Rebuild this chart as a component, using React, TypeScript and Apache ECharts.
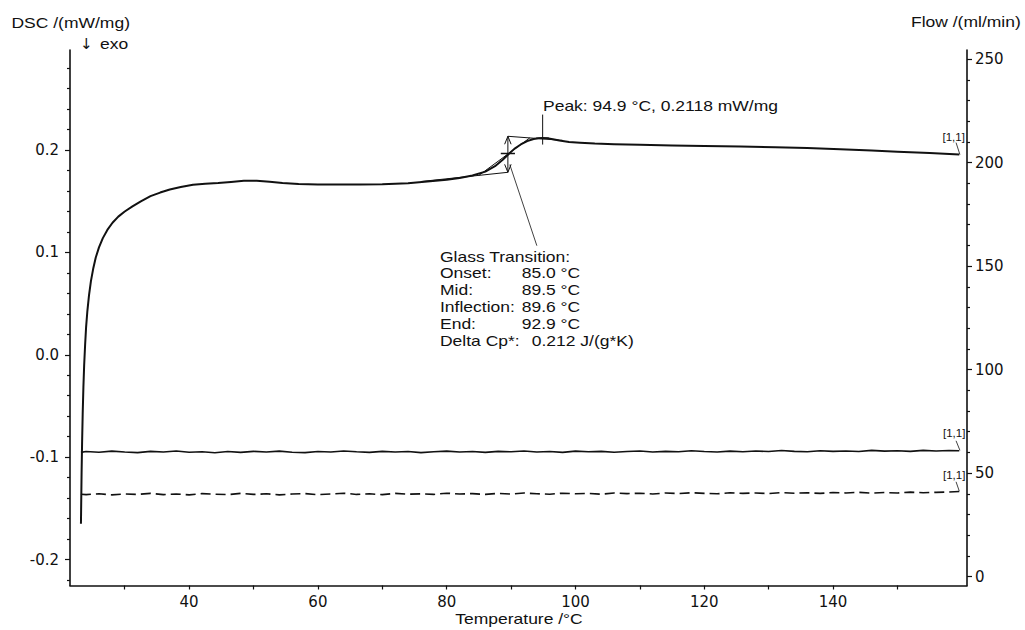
import React, { useEffect, useRef } from 'react';
import * as echarts from 'echarts';

// ---- DSC curve (left axis, mW/mg) ----
const dscT = [23.2, 23.25, 23.3, 23.38, 23.47, 23.58, 23.7, 23.85, 24.0, 24.2, 24.45, 24.75, 25.1, 25.5, 26.0, 26.6, 27.3, 28.1, 29.0, 30.0, 31.2, 32.5, 34.0, 35.5, 37.0, 38.7, 40.6, 42.5, 44.5, 46.5, 48.5, 50.5, 52.5, 54.5, 57, 60, 63, 66.6, 70, 74, 77, 80, 82, 84, 86, 87.5, 88.7, 89.5, 90.5, 91.5, 92.5, 93.5, 94.3, 94.9, 95.6, 96.5, 97.5, 99, 100.7, 103, 106, 110, 115, 120, 125.6, 131, 136, 141.1, 146, 150, 155, 159.6];
const dscV = [-0.165, -0.14, -0.115, -0.085, -0.058, -0.032, -0.01, 0.01, 0.027, 0.043, 0.058, 0.072, 0.084, 0.095, 0.105, 0.114, 0.122, 0.129, 0.135, 0.14, 0.145, 0.15, 0.155, 0.1585, 0.1615, 0.164, 0.1662, 0.1672, 0.1678, 0.1688, 0.17, 0.17, 0.169, 0.1678, 0.1668, 0.1663, 0.1663, 0.1665, 0.1667, 0.1677, 0.1693, 0.171, 0.1727, 0.1752, 0.179, 0.1843, 0.1905, 0.1955, 0.2012, 0.2055, 0.2088, 0.2108, 0.2116, 0.2118, 0.2115, 0.2105, 0.2093, 0.208, 0.2072, 0.2064, 0.2058, 0.2052, 0.2046, 0.2041, 0.2035, 0.2028, 0.202, 0.2008, 0.1995, 0.1985, 0.1972, 0.1956];

// ---- Flow curves (right axis, ml/min) ----
const flowT = [23.2, 24, 26, 28, 30, 32, 34, 36, 38, 40, 42, 44, 46, 48, 50, 52, 54, 56, 58, 60, 62, 64, 66, 68, 70, 72, 74, 76, 78, 80, 82, 84, 86, 88, 90, 92, 94, 96, 98, 100, 102, 104, 106, 108, 110, 112, 114, 116, 118, 120, 122, 124, 126, 128, 130, 132, 134, 136, 138, 140, 142, 144, 146, 148, 150, 152, 154, 156, 158, 159.6];
const flowSolid = [60.0, 60.4, 60.1, 60.6, 60.2, 59.9, 60.5, 60.2, 60.7, 60.1, 60.3, 59.8, 60.4, 60.0, 60.5, 60.2, 60.6, 60.1, 59.9, 60.4, 60.2, 60.7, 60.3, 60.0, 60.5, 60.2, 60.4, 59.9, 60.3, 60.6, 60.2, 60.4, 60.0, 60.5, 60.3, 60.7, 60.2, 60.4, 60.0, 60.6, 60.3, 60.5, 60.1, 60.4, 60.7, 60.2, 60.5, 60.3, 60.8, 60.4, 60.2, 60.6, 60.3, 60.7, 60.4, 60.9, 60.5, 60.3, 60.8, 60.5, 60.7, 60.4, 61.0, 60.6, 60.8, 60.5, 61.0, 60.7, 60.9, 60.8];
const flowDashed = [39.8, 39.6, 40.0, 39.5, 39.9, 39.7, 40.2, 39.6, 39.9, 39.5, 40.1, 39.8, 39.6, 40.2, 39.7, 40.0, 39.5, 39.9, 40.1, 39.6, 39.9, 40.3, 39.7, 40.0, 39.6, 40.2, 39.8, 40.0, 39.7, 40.3, 39.9, 40.1, 39.7, 40.2, 39.9, 40.4, 40.0, 39.8, 40.3, 40.0, 40.2, 39.8, 40.4, 40.1, 40.3, 39.9, 40.4, 40.1, 40.5, 40.2, 40.0, 40.5, 40.2, 40.4, 40.1, 40.6, 40.3, 40.5, 40.2, 40.6, 40.4, 40.7, 40.3, 40.6, 40.4, 40.8, 40.5, 40.7, 40.9, 41.1];

// ---- Glass transition evaluation marks (DSC axis units) ----
const onsetBaseline = [[76, 0.1693], [89.5, 0.1783]];
const endBaseline = [[89.5, 0.2135], [98, 0.2095]];
const inflectionTangent = [[85.0, 0.1753], [92.9, 0.2119]];
const stepArrow = [[89.5, 0.1783], [89.5, 0.2135]];
const arrowHeadTop = [[89.0, 0.2057], [89.5, 0.2135], [90.0, 0.2057]];
const arrowHeadBottom = [[89.0, 0.1861], [89.5, 0.1783], [90.0, 0.1861]];
const midTick = [[88.4, 0.1966], [90.6, 0.1966]];
const peakTick = [[94.9, 0.2054], [94.9, 0.2347]];
const peakCross = [[93.9, 0.2118], [95.9, 0.2118]];
const tgLeader = [[89.8, 0.1858], [94.0, 0.1066]];
const dscEndLeader = [[159.1, 0.2073], [159.7, 0.1956]];
const solidEndLeader = [[159.1, 65.6], [159.7, 61.0]];
const dashEndLeader = [[159.1, 45.8], [159.6, 41.3]];

// ---- Axis ticks ----
const xTickValues = [30, 40, 50, 60, 70, 80, 90, 100, 110, 120, 130, 140, 150];
const xLabelValues = [40, 60, 80, 100, 120, 140];
const dscMajorTicks = [-0.2, -0.1, 0, 0.1, 0.2];
const dscMinorTicks = [-0.22, -0.18, -0.16, -0.14, -0.12, -0.08, -0.06, -0.04, -0.02, 0.02, 0.04, 0.06, 0.08, 0.12, 0.14, 0.16, 0.18, 0.22, 0.24, 0.26, 0.28];
const flowMajorTicks = [0, 50, 100, 150, 200, 250];
const flowMinorTicks = [10, 20, 30, 40, 60, 70, 80, 90, 110, 120, 130, 140, 160, 170, 180, 190, 210, 220, 230, 240];

const glassLabels = ['Onset:', 'Mid:', 'Inflection:', 'End:', 'Delta Cp*:'];
const glassValues = ['85.0 °C', '89.5 °C', '89.6 °C', '92.9 °C', '0.212 J/(g*K)'];

const zip = (xs: number[], ys: number[]) => xs.map((x, i) => [x, ys[i]]);

const FONT = '"Liberation Sans", Arial, sans-serif';
const TICK_FONT = '"DejaVu Sans", sans-serif';

const txt = (text: string, x: number, y: number, size = 14, align = 'left', sx = 1.25, family = FONT) => ({
  type: 'text',
  x,
  y,
  scaleX: sx,
  z: 10,
  style: { text, fill: '#111', fontFamily: family, fontSize: size, verticalAlign: 'middle', align },
});

const annot = (data: number[][], yAxisIndex = 0, width = 1) => ({
  type: 'line',
  xAxisIndex: 0,
  yAxisIndex,
  data,
  showSymbol: false,
  symbol: 'none',
  silent: true,
  lineStyle: { color: '#111', width },
  z: 3,
});

const axisBase = {
  type: 'value',
  splitLine: { show: false },
};

export default function App() {
  const ref = useRef<HTMLDivElement>(null);
  useEffect(() => {
    document.body.style.margin = '0';
    const chart = echarts.init(ref.current as HTMLDivElement, null, { renderer: 'svg' });
    const rowY = [273.3, 290, 307, 324, 341];
    const valX = [521.7, 521.7, 521.7, 521.7, 531.7];
    const option: any = {
      animation: false,
      backgroundColor: '#fff',
      grid: { left: 70, right: 58, top: 50, bottom: 44.5 },
      xAxis: {
        ...axisBase,
        min: 21.5,
        max: 160.8,
        axisLine: { show: true, onZero: false, lineStyle: { color: '#111', width: 1.6 } },
        axisTick: { show: true, customValues: xTickValues, length: 4, lineStyle: { color: '#111', width: 1.2 } },
        axisLabel: { customValues: xLabelValues, color: '#111', fontFamily: TICK_FONT, fontSize: 15, margin: 9 },
      },
      yAxis: [
        {
          ...axisBase,
          position: 'left',
          min: -0.2254,
          max: 0.2978,
          axisLine: { show: true, onZero: false, lineStyle: { color: '#111', width: 1.6 } },
          axisTick: { show: true, customValues: dscMajorTicks, length: 5, lineStyle: { color: '#111', width: 1.2 } },
          axisLabel: {
            customValues: dscMajorTicks,
            color: '#111',
            fontFamily: TICK_FONT,
            fontSize: 15,
            margin: 11,
            formatter: (v: number) => v.toFixed(1),
          },
        },
        {
          ...axisBase,
          position: 'left',
          offset: 0,
          min: -0.2254,
          max: 0.2978,
          axisLine: { show: false, onZero: false },
          axisTick: { show: true, customValues: dscMinorTicks, length: 3, lineStyle: { color: '#111', width: 1.2 } },
          axisLabel: { show: false },
        },
        {
          ...axisBase,
          position: 'right',
          min: -4.3,
          max: 254.4,
          axisLine: { show: true, onZero: false, lineStyle: { color: '#111', width: 1.6 } },
          axisTick: { show: true, customValues: flowMajorTicks, length: 5, lineStyle: { color: '#111', width: 1.2 } },
          axisLabel: { customValues: flowMajorTicks, color: '#111', fontFamily: TICK_FONT, fontSize: 15, margin: 8 },
        },
        {
          ...axisBase,
          position: 'right',
          offset: 0,
          min: -4.3,
          max: 254.4,
          axisLine: { show: false, onZero: false },
          axisTick: { show: true, customValues: flowMinorTicks, length: 3, lineStyle: { color: '#111', width: 1.2 } },
          axisLabel: { show: false },
        },
      ],
      series: [
        {
          name: 'DSC',
          type: 'line',
          xAxisIndex: 0,
          yAxisIndex: 0,
          data: zip(dscT, dscV),
          showSymbol: false,
          symbol: 'none',
          smooth: false,
          lineStyle: { color: '#111', width: 2, join: 'round' },
          z: 4,
        },
        {
          name: 'Flow 1',
          type: 'line',
          xAxisIndex: 0,
          yAxisIndex: 2,
          data: zip(flowT, flowSolid),
          showSymbol: false,
          symbol: 'none',
          lineStyle: { color: '#111', width: 1.6 },
        },
        {
          name: 'Flow 2',
          type: 'line',
          xAxisIndex: 0,
          yAxisIndex: 2,
          data: zip(flowT, flowDashed),
          showSymbol: false,
          symbol: 'none',
          lineStyle: { color: '#111', width: 1.6, type: [10, 5] },
        },
        annot(onsetBaseline),
        annot(endBaseline),
        annot(inflectionTangent),
        annot(stepArrow),
        annot(arrowHeadTop),
        annot(arrowHeadBottom),
        annot(midTick, 0, 1.5),
        annot(peakTick),
        annot(peakCross),
        annot(tgLeader, 0, 0.8),
        annot(dscEndLeader, 0, 0.8),
        annot(solidEndLeader, 2, 0.8),
        annot(dashEndLeader, 2, 0.8),
      ],
      graphic: [
        txt('DSC /(mW/mg)', 11.5, 23),
        txt('↓', 80, 44, 15, 'left', 1, '"DejaVu Sans", sans-serif'),
        txt('exo', 100, 44),
        txt('Flow /(ml/min)', 911, 22),
        txt('Temperature /°C', 519, 619, 14, 'center'),
        txt('Peak: 94.9 °C, 0.2118 mW/mg', 543, 106),
        txt('Glass Transition:', 440, 256.7),
        ...glassLabels.map((l, i) => txt(l, 440, rowY[i])),
        ...glassValues.map((v, i) => txt(v, valX[i], rowY[i])),
        txt('[1,1]', 942.5, 137, 10, 'left', 1.15),
        txt('[1,1]', 943, 433.5, 10, 'left', 1.15),
        txt('[1,1]', 943, 475, 10, 'left', 1.15),
      ],
    };
    chart.setOption(option);
    return () => chart.dispose();
  }, []);
  return <div ref={ref} style={{ width: 1025, height: 630 }} />;
}
